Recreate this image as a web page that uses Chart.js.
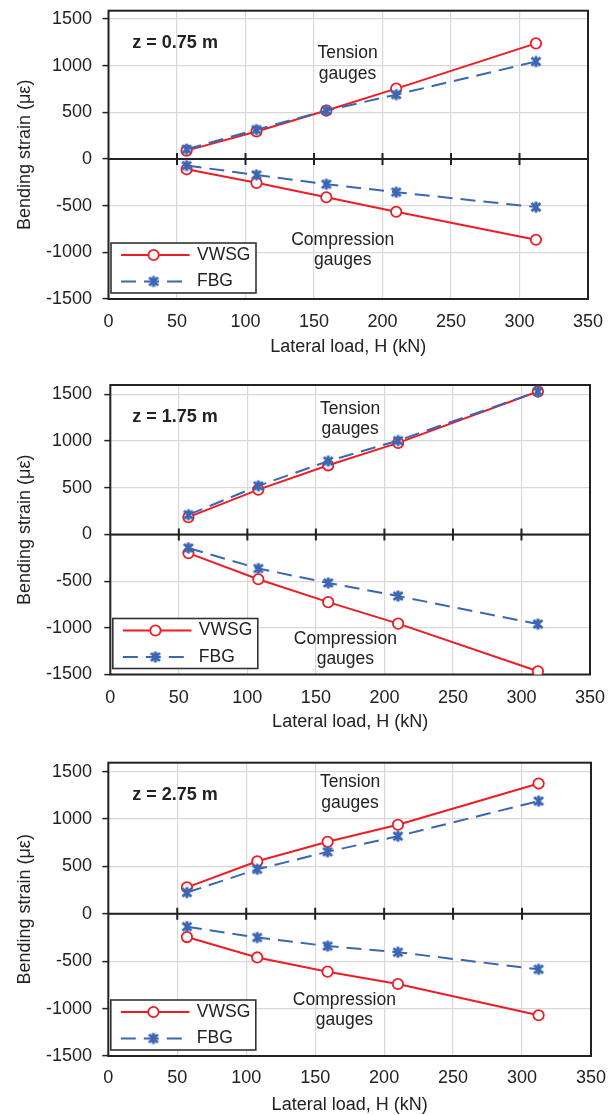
<!DOCTYPE html>
<html lang="en">
<head>
<meta charset="UTF-8">
<title>Bending strain vs lateral load</title>
<script src="https://cdn.jsdelivr.net/npm/chart.js"></script>
<style>
  html, body { margin: 0; padding: 0; background: #fff; overflow: hidden; }
  body { width: 608px; height: 1115px; position: relative; }
  canvas { position: absolute; left: 0; }
</style>
</head>
<body>
<canvas id="c1" width="608" height="365" style="top:0px"></canvas>
<canvas id="c2" width="608" height="370" style="top:370px"></canvas>
<canvas id="c3" width="608" height="372" style="top:745px"></canvas>

<script>
// lateral load steps (kN)
const loadH = [57, 108, 159, 210, 312];
const yTickValues = [-1500, -1000, -500, 0, 500, 1000, 1500];

// z = 0.75 m
const vwsgTension1 = [90, 295, 520, 755, 1240];
const fbgTension1 = [105, 315, 520, 690, 1045];
const vwsgCompr1 = [-110, -255, -410, -565, -865];
const fbgCompr1 = [-70, -170, -270, -355, -515];

// z = 1.75 m
const vwsgTension2 = [185, 480, 740, 980, 1530];
const fbgTension2 = [210, 520, 785, 1005, 1530];
const vwsgCompr2 = [-200, -480, -725, -955, -1465];
const fbgCompr2 = [-145, -365, -520, -660, -960];

// z = 2.75 m
const vwsgTension3 = [280, 555, 760, 940, 1375];
const fbgTension3 = [225, 470, 655, 820, 1190];
const vwsgCompr3 = [-245, -460, -610, -740, -1070];
const fbgCompr3 = [-135, -250, -340, -405, -585];

const depthLabels = ['z = 0.75 m', 'z = 1.75 m', 'z = 2.75 m'];

const RED = '#ee1d25';
const BLUE = '#3a66b4';
const INK = '#222222';
const FONT = '"Liberation Sans", Arial, sans-serif';

Chart.defaults.font.family = FONT;
Chart.defaults.color = INK;

// excel-like star marker
function starMarker(color) {
  const c = document.createElement('canvas');
  c.width = 14; c.height = 14;
  const g = c.getContext('2d');
  g.strokeStyle = color;
  g.lineWidth = 3;
  g.beginPath();
  g.moveTo(7, 1.5); g.lineTo(7, 12.5);
  g.moveTo(2.5, 3); g.lineTo(11.5, 11);
  g.moveTo(11.5, 3); g.lineTo(2.5, 11);
  g.stroke();
  return c;
}
const star = starMarker(BLUE);

const xy = vals => loadH.map((h, i) => ({ x: h, y: vals[i] }));

function vwsg(vals, inLegend) {
  return {
    label: 'VWSG', data: xy(vals), inLegend,
    borderColor: RED, borderWidth: 2, tension: 0,
    pointStyle: 'circle', pointRadius: 5.2, pointBorderWidth: 1.8,
    pointBorderColor: RED, pointBackgroundColor: '#fff', order: 2
  };
}
function fbg(vals, inLegend) {
  return {
    label: 'FBG', data: xy(vals), inLegend,
    borderColor: BLUE, borderWidth: 2, borderDash: [15, 8], tension: 0,
    pointStyle: star, pointRadius: 6,
    pointBorderColor: BLUE, pointBackgroundColor: BLUE, order: 1
  };
}

// frame, zero axis with crossing ticks
const framePlugin = {
  id: 'frame',
  beforeDatasetsDraw(chart) {
    const { ctx, chartArea: a, scales: { x, y } } = chart;
    const y0 = y.getPixelForValue(0);
    ctx.save();
    ctx.strokeStyle = INK;
    ctx.lineWidth = 2;
    ctx.beginPath();
    ctx.moveTo(a.left, y0);
    ctx.lineTo(a.right, y0);
    x.ticks.forEach(t => {
      if (t.value <= x.min || t.value >= x.max) return;
      const px = x.getPixelForValue(t.value);
      ctx.moveTo(px, y0 - 6);
      ctx.lineTo(px, y0 + 6);
    });
    ctx.stroke();
    ctx.strokeRect(a.left, a.top, a.right - a.left, a.bottom - a.top);
    ctx.restore();
  }
};

// text notes + legend box
const notesPlugin = {
  id: 'notes',
  afterDatasetsDraw(chart, args, opts) {
    const { ctx, chartArea: a, scales: { x, y } } = chart;
    ctx.save();
    ctx.fillStyle = INK;
    ctx.textBaseline = 'middle';
    opts.items.forEach(n => {
      ctx.font = (n.bold ? 'bold ' : '') + n.size + 'px ' + FONT;
      ctx.textAlign = n.align || 'center';
      ctx.fillText(n.text, x.getPixelForValue(n.x), y.getPixelForValue(n.y));
    });

    // legend
    const L = a.left + 2.5, B = a.bottom - 6, W = 145, H = 50, T = B - H;
    ctx.fillStyle = '#fff';
    ctx.fillRect(L, T, W, H);
    ctx.strokeStyle = '#333';
    ctx.lineWidth = 1.6;
    ctx.strokeRect(L, T, W, H);
    const entries = chart.data.datasets.filter(d => d.inLegend);
    entries.forEach((d, i) => {
      const ry = T + 12 + i * 26.5;
      ctx.strokeStyle = d.borderColor;
      ctx.lineWidth = d.borderWidth;
      ctx.setLineDash(d.borderDash || []);
      ctx.beginPath();
      ctx.moveTo(L + 10, ry);
      ctx.lineTo(L + 78.6, ry);
      ctx.stroke();
      ctx.setLineDash([]);
      const mx = L + 42.6;
      if (d.pointStyle === 'circle') {
        ctx.beginPath();
        ctx.arc(mx, ry, d.pointRadius, 0, Math.PI * 2);
        ctx.fillStyle = d.pointBackgroundColor;
        ctx.fill();
        ctx.lineWidth = d.pointBorderWidth;
        ctx.strokeStyle = d.pointBorderColor;
        ctx.stroke();
      } else {
        ctx.drawImage(d.pointStyle, mx - d.pointStyle.width / 2, ry - d.pointStyle.height / 2);
      }
      ctx.fillStyle = INK;
      ctx.font = '17.5px ' + FONT;
      ctx.textAlign = 'left';
      ctx.fillText(d.label, L + 86, ry);
    });
    ctx.restore();
  }
};

const panels = [
  {
    id: 'c1', top: 0, h: 365, box: { t: 10.7, b: 299, l: 108.5, r: 588 }, yMax: 1590,
    xLabelY: 321.7, titleY: 347,
    series: [vwsgTension1, vwsgCompr1, fbgTension1, fbgCompr1],
    notes: [[17.4, 1243], [174.5, 1136], [174.5, 914], [171, -865], [171, -1086]]
  },
  {
    id: 'c2', top: 370, h: 370, box: { t: 385, b: 674.5, l: 110.3, r: 590 }, yMax: 1600,
    xLabelY: 698.3, titleY: 721.7,
    series: [vwsgTension2, vwsgCompr2, fbgTension2, fbgCompr2],
    notes: [[16, 1260], [175, 1339], [175, 1125], [171.5, -1123], [171.5, -1337]]
  },
  {
    id: 'c3', top: 745, h: 372, box: { t: 762.7, b: 1056, l: 108.3, r: 591 }, yMax: 1595,
    xLabelY: 1078, titleY: 1105,
    series: [vwsgTension3, vwsgCompr3, fbgTension3, fbgCompr3],
    notes: [[17.4, 1255], [175.3, 1389], [175.3, 1163], [171.2, -912], [171.2, -1123]]
  }
];

panels.forEach((p, k) => {
  const axisH = p.h - (p.box.b - p.top);
  const n = p.notes;
  new Chart(document.getElementById(p.id), {
    type: 'line',
    data: {
      datasets: [
        vwsg(p.series[0], true), vwsg(p.series[1], false),
        fbg(p.series[2], true), fbg(p.series[3], false)
      ]
    },
    options: {
      responsive: false,
      animation: false,
      events: [],
      layout: { padding: { top: p.box.t - p.top, right: 608 - p.box.r, left: 0, bottom: 0 } },
      scales: {
        x: {
          type: 'linear', min: 0, max: 350,
          ticks: {
            stepSize: 50, padding: p.xLabelY - p.box.b - 10.8, font: { size: 18 }, color: INK,
            callback: v => String(v)
          },
          grid: { color: '#d9d9d9', lineWidth: 1.2, drawTicks: false },
          border: { display: false },
          title: {
            display: true, text: 'Lateral load, H (kN)', color: INK, font: { size: 18 },
            padding: { top: 0, bottom: p.top + p.h - p.titleY - 10.8 }
          },
          afterFit(s) { s.height = axisH; s.paddingLeft = 0; s.paddingRight = 0; }
        },
        y: {
          type: 'linear', min: -1500, max: p.yMax,
          afterBuildTicks(s) { s.ticks = yTickValues.map(v => ({ value: v })); },
          ticks: {
            padding: p.box.l - 6 - 92, font: { size: 18 }, color: INK,
            callback: v => String(v)
          },
          grid: {
            color: c => c.tick && c.tick.value === 0 ? INK : '#d9d9d9',
            lineWidth: 1.2, tickLength: 6, tickColor: INK, tickWidth: 1.5
          },
          border: { display: false },
          title: {
            display: true, text: 'Bending strain (με)', color: INK, font: { size: 18 },
            padding: { top: 14.2, bottom: 0 }
          },
          afterFit(s) { s.width = p.box.l; s.paddingTop = 0; s.paddingBottom = 0; }
        }
      },
      plugins: {
        legend: { display: false },
        tooltip: { enabled: false },
        notes: {
          items: [
            { text: depthLabels[k], x: n[0][0], y: n[0][1], bold: true, size: 18, align: 'left' },
            { text: 'Tension', x: n[1][0], y: n[1][1], size: 17.5 },
            { text: 'gauges', x: n[2][0], y: n[2][1], size: 17.5 },
            { text: 'Compression', x: n[3][0], y: n[3][1], size: 17.5 },
            { text: 'gauges', x: n[4][0], y: n[4][1], size: 17.5 }
          ]
        }
      }
    },
    plugins: [framePlugin, notesPlugin]
  });
});
</script>
</body>
</html>
